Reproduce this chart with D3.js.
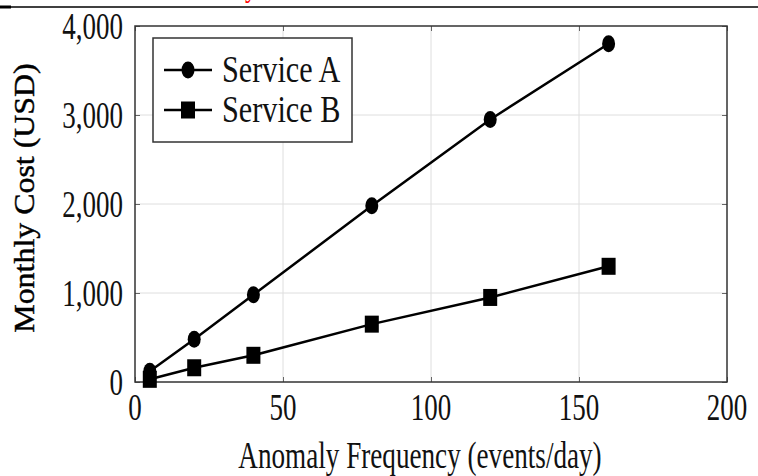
<!DOCTYPE html>
<html>
<head>
<meta charset="utf-8">
<script src="https://cdn.jsdelivr.net/npm/d3@7"></script>
<style>
  body { margin: 0; background: #fff; }
  text { font-family: "Liberation Serif", "DejaVu Serif", serif; }
</style>
</head>
<body>
<div id="chart"></div>
<script>
const frequency = [5, 20, 40, 80, 120, 160];
const serviceA = [120, 480, 980, 1980, 2950, 3800];
const serviceB = [30, 160, 300, 650, 950, 1300];
const xTicks = [0, 50, 100, 150, 200];
const yTicks = [0, 1000, 2000, 3000, 4000];

let width = 758, height = 476;
let margin = { top: 26, right: 31, bottom: 94, left: 135 };

let svg = d3.select("#chart")
  .append("svg")
  .attr("width", width)
  .attr("height", height);

// the picture looks stretched vertically, so text gets a y-scale
const stretched = (x, y, sx, sy) => `translate(${x}, ${y}) scale(${sx}, ${sy})`;

// rule at the very top (caption above is cut off)
svg.append("line")
  .attr("x1", 0).attr("x2", width)
  .attr("y1", 7).attr("y2", 7)
  .attr("stroke", "black")
  .attr("stroke-width", 1.5);
svg.append("line")
  .attr("x1", 0).attr("x2", 11)
  .attr("y1", 7).attr("y2", 7)
  .attr("stroke", "black")
  .attr("stroke-width", 3);

svg.append("text")
  .attr("transform", stretched(245, -4, 1, 1.3))
  .attr("fill", "red")
  .attr("font-size", 24)
  .text("y");

let xscale = d3.scaleLinear()
  .domain([0, 200])
  .range([margin.left, width - margin.right]);

let yscale = d3.scaleLinear()
  .domain([0, 4000])
  .range([height - margin.bottom, margin.top]);

let plotW = width - margin.right - margin.left;
let plotH = height - margin.bottom - margin.top;

// grid
svg.append("g")
  .selectAll("line")
  .data(xTicks.slice(1, -1))
  .join("line")
  .attr("x1", d => xscale(d)).attr("x2", d => xscale(d))
  .attr("y1", margin.top).attr("y2", height - margin.bottom)
  .attr("stroke", "#dedede")
  .attr("stroke-width", 1);

svg.append("g")
  .selectAll("line")
  .data(yTicks.slice(1, -1))
  .join("line")
  .attr("x1", margin.left).attr("x2", width - margin.right)
  .attr("y1", d => yscale(d)).attr("y2", d => yscale(d))
  .attr("stroke", "#dedede")
  .attr("stroke-width", 1);

// inward ticks on all four sides
svg.append("g")
  .attr("transform", `translate(0, ${height - margin.bottom})`)
  .call(d3.axisBottom(xscale).tickValues(xTicks).tickSizeInner(-5).tickSizeOuter(0).tickFormat(""))
  .call(g => g.select(".domain").remove())
  .selectAll("line").attr("stroke", "#666");

svg.append("g")
  .attr("transform", `translate(0, ${margin.top})`)
  .call(d3.axisTop(xscale).tickValues(xTicks).tickSizeInner(-5).tickSizeOuter(0).tickFormat(""))
  .call(g => g.select(".domain").remove())
  .selectAll("line").attr("stroke", "#666");

svg.append("g")
  .attr("transform", `translate(${margin.left}, 0)`)
  .call(d3.axisLeft(yscale).tickValues(yTicks).tickSizeInner(-5).tickSizeOuter(0).tickFormat(""))
  .call(g => g.select(".domain").remove())
  .selectAll("line").attr("stroke", "#666");

svg.append("g")
  .attr("transform", `translate(${width - margin.right}, 0)`)
  .call(d3.axisRight(yscale).tickValues(yTicks).tickSizeInner(-5).tickSizeOuter(0).tickFormat(""))
  .call(g => g.select(".domain").remove())
  .selectAll("line").attr("stroke", "#666");

// tick labels
svg.append("g")
  .selectAll("text")
  .data(xTicks)
  .join("text")
  .attr("transform", d => stretched(xscale(d), height - margin.bottom + 38, 1, 1.38))
  .attr("text-anchor", "middle")
  .attr("font-size", 27)
  .attr("fill", "#111")
  .text(d => d3.format(",")(d));

svg.append("g")
  .selectAll("text")
  .data(yTicks)
  .join("text")
  .attr("transform", d => stretched(margin.left - 12, yscale(d) + 13, 1, 1.38))
  .attr("text-anchor", "end")
  .attr("font-size", 27)
  .attr("fill", "#111")
  .text(d => d3.format(",")(d));

// frame
svg.append("rect")
  .attr("x", margin.left).attr("y", margin.top)
  .attr("width", plotW).attr("height", plotH)
  .attr("fill", "none")
  .attr("stroke", "#333")
  .attr("stroke-width", 1.5);

// axis labels
svg.append("text")
  .attr("transform", stretched((margin.left + width - margin.right) / 2 - 11, 468, 0.97, 1.38))
  .attr("text-anchor", "middle")
  .attr("font-size", 28)
  .attr("fill", "#111")
  .text("Anomaly Frequency (events/day)");

svg.append("text")
  .attr("transform", `translate(34, 198) rotate(-90) scale(1.14, 1.02)`)
  .attr("text-anchor", "middle")
  .attr("font-size", 28)
  .attr("fill", "#000")
  .attr("stroke", "#000")
  .attr("stroke-width", 0.4)
  .text("Monthly Cost (USD)");

// series
let line = d3.line()
  .x((d, i) => xscale(frequency[i]))
  .y(d => yscale(d));

[serviceA, serviceB].forEach(series => {
  svg.append("path")
    .datum(series)
    .attr("d", line)
    .attr("fill", "none")
    .attr("stroke", "black")
    .attr("stroke-width", 2.5);
});

svg.append("g")
  .selectAll("ellipse")
  .data(serviceA)
  .join("ellipse")
  .attr("cx", (d, i) => xscale(frequency[i]))
  .attr("cy", d => yscale(d))
  .attr("rx", 6.5).attr("ry", 8.5)
  .attr("fill", "black");

svg.append("g")
  .selectAll("rect")
  .data(serviceB)
  .join("rect")
  .attr("x", (d, i) => xscale(frequency[i]) - 7)
  .attr("y", d => yscale(d) - 8.5)
  .attr("width", 14).attr("height", 17)
  .attr("fill", "black");

// legend
let legend = svg.append("g");
legend.append("rect")
  .attr("x", 153).attr("y", 38)
  .attr("width", 199).attr("height", 104)
  .attr("fill", "white")
  .attr("stroke", "#333")
  .attr("stroke-width", 1.5);

let entries = [
  { name: "Service A", shape: "circle" },
  { name: "Service B", shape: "square" }
];

entries.forEach((e, i) => {
  let cy = 70 + i * 40;
  legend.append("line")
    .attr("x1", 164).attr("x2", 212)
    .attr("y1", cy).attr("y2", cy)
    .attr("stroke", "black")
    .attr("stroke-width", 2.5);
  if (e.shape === "circle") {
    legend.append("ellipse")
      .attr("cx", 188).attr("cy", cy)
      .attr("rx", 6.5).attr("ry", 8.5)
      .attr("fill", "black");
  } else {
    legend.append("rect")
      .attr("x", 181).attr("y", cy - 8.5)
      .attr("width", 14).attr("height", 17)
      .attr("fill", "black");
  }
  legend.append("text")
    .attr("transform", stretched(222, cy + 12, 1.12, 1.38))
    .attr("font-size", 27)
    .attr("fill", "#111")
    .text(e.name);
});
</script>
</body>
</html>
